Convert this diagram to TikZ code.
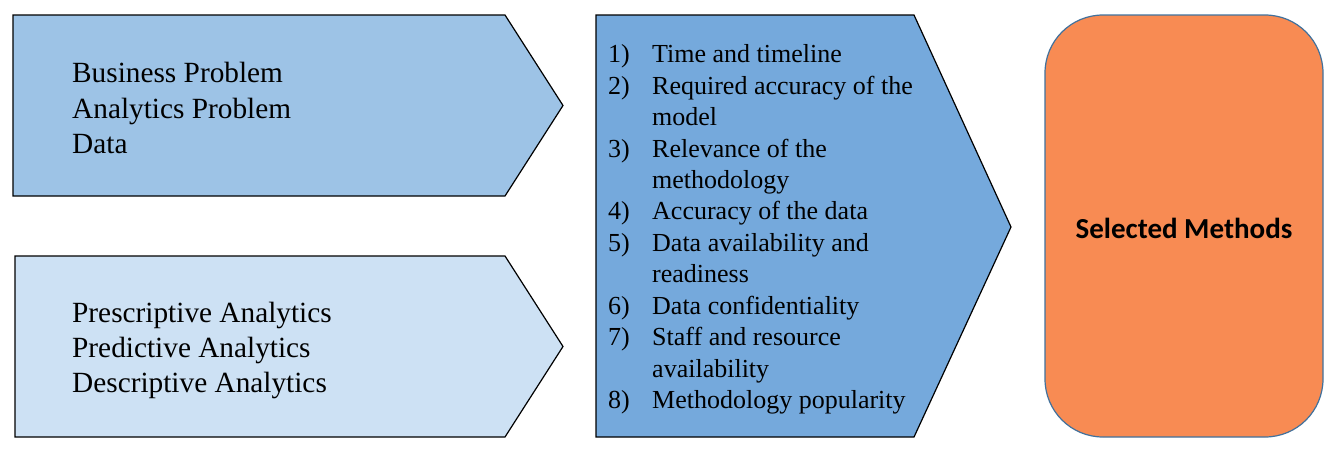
\documentclass[tikz,border=0pt]{standalone}
\usepackage{fontspec}
\setmainfont{Liberation Serif}
\newfontfamily\calib{Carlito}
\definecolor{boxA}{HTML}{9DC3E6}
\definecolor{boxB}{HTML}{CDE1F4}
\definecolor{boxC}{HTML}{75A9DC}
\definecolor{boxD}{HTML}{F88B53}
\definecolor{edgeD}{HTML}{41719C}
\begin{document}
\begin{tikzpicture}[x=1pt,y=-1pt,
  chev/.style={draw=black,line width=1.2pt,line join=miter},
  lbl/.style={inner sep=0pt,anchor=west,align=left,font=\fontsize{29.3}{35.3}\selectfont},
  listtxt/.style={inner sep=0pt,anchor=west,align=left,font=\fontsize{26}{31.45}\selectfont}]
\useasboundingbox (0,0) rectangle (1342,453);
% shape 1
\draw[chev,fill=boxA] (13,15) -- (505,15) -- (563,105.5) -- (505,196) -- (13,196) -- cycle;
\node[lbl] (t1) at (72,108) {Business Problem\\Analytics Problem\\Data};
% shape 2
\draw[chev,fill=boxB] (15,256) -- (505,256) -- (563,346.5) -- (505,437) -- (15,437) -- cycle;
\node[lbl] (t2) at (72,350.5) {Prescriptive Analytics\\Predictive Analytics\\Descriptive Analytics};
% shape 3
\draw[chev,fill=boxC] (596,15) -- (914,15) -- (1011,227) -- (914,437) -- (596,437) -- cycle;
\newcommand{\itm}[1]{\makebox[44pt][l]{#1}}
\node[listtxt] (t3) at (608,229.5) {%
\itm{1)}Time and timeline\\
\itm{2)}Required accuracy of the\\
\itm{}model\\
\itm{3)}Relevance of the\\
\itm{}methodology\\
\itm{4)}Accuracy of the data\\
\itm{5)}Data availability and\\
\itm{}readiness\\
\itm{6)}Data confidentiality\\
\itm{7)}Staff and resource\\
\itm{}availability\\
\itm{8)}Methodology popularity};
% shape 4
\draw[draw=edgeD,line width=1.2pt,fill=boxD,rounded corners=58pt] (1045,15) rectangle (1323,437);
\node[inner sep=0pt,font=\calib\bfseries\fontsize{29}{35}\selectfont] (t4) at (1184,228) {Selected Methods};
\end{tikzpicture}
\end{document}
